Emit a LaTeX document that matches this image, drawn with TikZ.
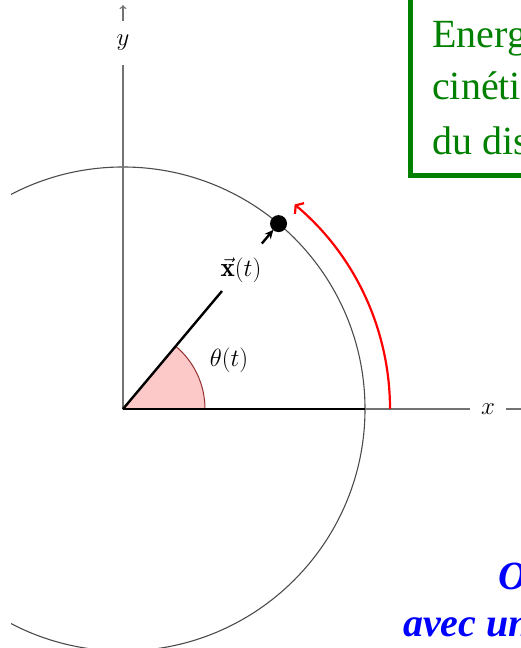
\documentclass[tikz,border=0pt]{standalone}
\usepackage{fontspec}
\newfontfamily\tnr{Liberation Serif}
\usetikzlibrary{arrows.meta}
\definecolor{boxgreen}{RGB}{0,128,0}
\definecolor{wedgefill}{RGB}{252,200,200}
\definecolor{wedgeline}{RGB}{150,50,50}
\begin{document}
\begin{tikzpicture}[x=1pt,y=1pt,
  axis/.style={draw=black!55, line width=1.1pt},
  axlab/.style={inner sep=0pt, font=\fontsize{26}{30}\selectfont},
  circ/.style={draw=black!70, line width=1.1pt},
  vec/.style={draw=black, line width=2.4pt},
  mathlab/.style={inner sep=0pt, font=\fontsize{27}{32}\selectfont},
  greentxt/.style={anchor=base west, inner sep=0pt, text=boxgreen, font=\tnr\fontsize{40}{54}\selectfont},
  bluetxt/.style={anchor=base west, inner sep=0pt, text=blue, font=\tnr\bfseries\itshape\fontsize{40}{48}\selectfont}]
\useasboundingbox (0,0) rectangle (521,648);
\clip (0,0) rectangle (521,648);
\coordinate (O) at (123,239);
\begin{scope}[shift={(123,239)}]
  \coordinate (v1) at (50:154);
  \coordinate (v2) at (50:216);
  \coordinate (vt) at (50:234);
  \coordinate (P) at (50:242);
  \coordinate (c0) at (0:242);
  \coordinate (w0) at (0:82);
  \coordinate (r0) at (0:267);
\end{scope}
% angle wedge
\filldraw[fill=wedgefill, draw=wedgeline, line width=1pt] (O) -- (w0) arc[start angle=0, end angle=50, radius=82] -- cycle;
% circle
\begin{scope}
  \clip (11,0) rectangle (521,648);
  \draw[circ] (O) circle[radius=242];
\end{scope}
% axes
\node[axlab, minimum height=44pt] (ylab) at (123,605) {$y$};
\coordinate (ytip) at (123,643);
\draw[axis] (O) -- (ylab);
\draw[axis, -{To[length=4pt,width=7pt]}] (ylab) -- (ytip);
\node[axlab, minimum width=35pt] (xlab) at (488,239) {$x$};
\coordinate (xtip) at (526,239);
\draw[axis] (O) -- (xlab);
\draw[axis, -{To[length=4pt,width=7pt]}] (xlab) -- (xtip);
% reference radius
\draw[black, line width=1.5pt] (O) -- (c0);
% position vector
\draw[vec] (O) -- (v1);
\draw[vec, -{Stealth[length=9pt,width=8pt]}] (v2) -- (vt);
\node[circle, fill=black, inner sep=0pt, minimum size=17pt] (dot) at (P) {};
\node[mathlab] (xv) at (241,378) {$\vec{\mathbf{x}}(t)$};
\node[mathlab] (th) at (229,288) {$\theta(t)$};
% red rotation arrow
\draw[red, line width=2.2pt, -{Straight Barb[length=5pt,width=14pt]}] (r0) arc[start angle=0, end angle=50, radius=267];
% green box
\draw[boxgreen, line width=5pt] (410.5,472.5) rectangle (620,700);
\node[greentxt] (g1) at (432,600) {Energie};
\node[greentxt] (g2) at (432,548) {cinétique};
\node[greentxt] (g3) at (432,493) {du disque};
% blue text
\node[bluetxt] (b1) at (498,58) {O};
\node[bluetxt] (b2) at (403,11) {avec un};
\end{tikzpicture}
\end{document}
